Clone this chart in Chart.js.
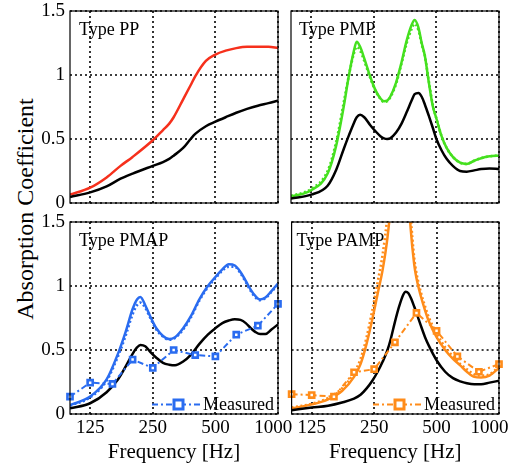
<!DOCTYPE html>
<html><head><meta charset="utf-8">
<script src="https://cdn.jsdelivr.net/npm/chart.js@4.4.1/dist/chart.umd.min.js"></script>
<style>
html,body{margin:0;padding:0;background:#fff;width:517px;height:463px;overflow:hidden;position:relative;}
canvas{position:absolute;}
#ylab{position:absolute;left:25px;top:209px;transform:translate(-50%,-50%) rotate(-90deg);font:24px "Liberation Serif";white-space:nowrap;color:#000;}
</style></head><body>
<div id="ylab">Absorption Coefficient</div>
<canvas id="c1"></canvas><canvas id="c2"></canvas><canvas id="c3"></canvas><canvas id="c4"></canvas>
<script>
// ---- tick values ----
const xTicks = [125, 250, 500, 1000];
const xTickLabels = ['125', '250', '500', '1000'];
const yTicks = [0, 0.5, 1, 1.5];
const yTickLabels = ['0', '0.5', '1', '1.5'];
const panelNames = ['Type PP', 'Type PMP', 'Type PMAP', 'Type PAMP'];
const xTitle = 'Frequency [Hz]';
const legendLabel = 'Measured';

// ---- Type PP ----
const ppFreq  = [100,125,150,175,200,250,280,300,315,350,380,400,450,500,560,630,710,800,900,1000];
const ppRed   = [0.065,0.12,0.2,0.29,0.36,0.49,0.57,0.62,0.67,0.81,0.92,0.99,1.11,1.16,1.19,1.21,1.22,1.22,1.22,1.21];
const ppBlack = [0.047,0.083,0.13,0.19,0.23,0.29,0.32,0.345,0.37,0.43,0.5,0.54,0.6,0.635,0.67,0.705,0.735,0.76,0.78,0.8];

// ---- Type PMP ----
const pmpFreq  = [100,125,150,165,180,190,200,207,215,225,240,255,270,280,290,300,320,340,360,380,393,410,425,440,460,480,500,530,560,600,650,700,760,820,900,1000];
const pmpGreen = [0.05,0.10,0.23,0.45,0.77,1.0,1.18,1.26,1.22,1.13,0.99,0.88,0.815,0.795,0.8,0.83,0.94,1.1,1.27,1.39,1.43,1.37,1.25,1.15,0.94,0.76,0.66,0.52,0.43,0.36,0.315,0.305,0.33,0.35,0.365,0.37];
const pmpGreenDot = [0.055,0.11,0.25,0.48,0.8,1.0,1.16,1.22,1.19,1.11,0.98,0.875,0.81,0.79,0.795,0.825,0.93,1.09,1.25,1.36,1.40,1.35,1.24,1.15,0.95,0.77,0.66,0.52,0.43,0.36,0.315,0.305,0.33,0.35,0.365,0.37];
const pmpBlack = [0.034,0.065,0.135,0.26,0.43,0.53,0.62,0.67,0.69,0.67,0.61,0.56,0.52,0.505,0.5,0.505,0.55,0.62,0.71,0.8,0.85,0.86,0.83,0.77,0.68,0.59,0.5,0.41,0.345,0.29,0.25,0.245,0.255,0.265,0.27,0.266];

// ---- Type PMAP ----
const pmapFreq  = [100,125,150,170,185,200,210,218,230,245,260,280,300,320,350,380,420,460,500,540,580,620,660,700,740,780,820,870,930,1000];
const pmapBlue  = [0.07,0.136,0.27,0.47,0.64,0.82,0.895,0.915,0.85,0.75,0.67,0.61,0.585,0.6,0.67,0.76,0.9,1.0,1.07,1.13,1.17,1.16,1.11,1.04,0.97,0.92,0.895,0.91,0.96,1.02];
const pmapBlueDot = [0.065,0.13,0.26,0.45,0.61,0.78,0.85,0.87,0.83,0.74,0.66,0.605,0.58,0.595,0.66,0.75,0.89,0.99,1.06,1.12,1.15,1.15,1.1,1.03,0.96,0.91,0.89,0.905,0.955,1.01];
const pmapBlack = [0.044,0.084,0.17,0.27,0.37,0.47,0.52,0.54,0.53,0.48,0.44,0.4,0.385,0.38,0.41,0.46,0.55,0.62,0.67,0.71,0.73,0.74,0.735,0.71,0.67,0.64,0.625,0.625,0.66,0.7];
const bandFreq = [100,125,160,200,250,315,400,500,630,800,1000];
const pmapMeasured = [0.135,0.245,0.235,0.425,0.36,0.5,0.46,0.45,0.62,0.69,0.86];

// ---- Type PAMP ----
const pampFreq   = [100,125,150,175,200,215,230,245,260,275,290,300,315,330,345,355,365,375,390,400,420,440,460,500,550,600,650,700,760,820,900,1000];
const pampOrange = [0.044,0.075,0.115,0.18,0.29,0.39,0.55,0.74,0.94,1.13,1.38,1.62,2.1,2.5,2.4,2.1,1.75,1.45,1.17,1.06,0.92,0.81,0.72,0.6,0.5,0.43,0.38,0.33,0.29,0.285,0.3,0.36];
const pampOrangeDot = [0.05,0.08,0.125,0.2,0.32,0.43,0.6,0.81,1.03,1.25,1.55,1.8,2.3,2.6,2.5,2.2,1.85,1.55,1.22,1.1,0.95,0.84,0.75,0.63,0.52,0.45,0.39,0.35,0.31,0.3,0.31,0.37];
const pampBlack  = [0.03,0.05,0.065,0.09,0.12,0.15,0.2,0.26,0.33,0.41,0.5,0.58,0.72,0.84,0.93,0.955,0.945,0.91,0.84,0.79,0.69,0.6,0.53,0.42,0.33,0.28,0.255,0.24,0.232,0.233,0.245,0.26];
const pampMeasured = [0.155,0.148,0.135,0.326,0.35,0.56,0.79,0.65,0.45,0.33,0.39];

const RED = '#f6301c', GREEN = '#45e01f', BLUE = '#2a6cf0', ORANGE = '#ff8c1a', BLACK = '#000';
const FONT = '"Liberation Serif", "Times New Roman", serif';

function pts(xs, ys) { return xs.map((x, i) => ({x: x, y: ys[i]})); }
function solid(xs, ys, color, order) {
  return {data: pts(xs, ys), borderColor: color, borderWidth: 2.5, pointRadius: 0, fill: false,
          cubicInterpolationMode: 'monotone', order: order};
}
function dotted(xs, ys, color, order) {
  return {data: pts(xs, ys), borderColor: color, borderWidth: 2.6, borderDash: [2, 2.5], pointRadius: 0,
          fill: false, cubicInterpolationMode: 'monotone', order: order};
}
function measured(xs, ys, color, order) {
  return {data: pts(xs, ys), borderColor: color, borderWidth: 2, borderDash: [6, 3, 2, 3], pointStyle: 'rect',
          pointRadius: 3.6, pointBorderWidth: 2.6, pointBackgroundColor: '#fff', pointBorderColor: color,
          fill: false, tension: 0, order: order, clip: false};
}

const framePlugin = {
  id: 'frame',
  beforeDatasetsDraw(chart) {
    // dotted grid at the tick positions of the chart's own scales
    const ctx = chart.ctx, a = chart.chartArea, sx = chart.scales.x, sy = chart.scales.y;
    ctx.save();
    ctx.strokeStyle = '#000'; ctx.lineWidth = 1.6; ctx.setLineDash([2, 3]);
    xTicks.forEach(v => {
      const px = Math.round(sx.getPixelForValue(v));
      ctx.beginPath(); ctx.moveTo(px, a.top); ctx.lineTo(px, a.bottom); ctx.stroke();
    });
    yTicks.forEach(v => {
      const py = Math.round(sy.getPixelForValue(v));
      ctx.beginPath(); ctx.moveTo(a.left, py); ctx.lineTo(a.right, py); ctx.stroke();
    });
    ctx.restore();
  },
  afterDraw(chart, args, o) {
    const ctx = chart.ctx, a = chart.chartArea;
    ctx.save();
    ctx.strokeStyle = '#000'; ctx.lineWidth = 1.2; ctx.setLineDash([]);
    ctx.strokeRect(a.left, a.top, a.right - a.left, a.bottom - a.top);
    ctx.fillStyle = '#000';
    ctx.font = '18px ' + FONT;
    ctx.textBaseline = 'alphabetic'; ctx.textAlign = 'left';
    ctx.fillText(o.label, a.left + o.dx, a.top + 24);
    if (o.legendColor) {
      const y = a.bottom - 9.5;
      ctx.strokeStyle = o.legendColor; ctx.lineWidth = 2; ctx.setLineDash([6, 3, 2, 3]);
      ctx.beginPath(); ctx.moveTo(a.right - 126, y); ctx.lineTo(a.right - 77, y); ctx.stroke();
      ctx.setLineDash([]); ctx.lineWidth = 3; ctx.fillStyle = '#fff';
      ctx.fillRect(a.right - 104, y - 4.5, 9, 9);
      ctx.strokeRect(a.right - 104, y - 4.5, 9, 9);
      ctx.fillStyle = '#000'; ctx.font = '18px ' + FONT;
      ctx.fillText(legendLabel, a.right - 75, a.bottom - 4);
    }
    ctx.restore();
  }
};

function makeChart(id, box, area, showXLabels, showYLabels, datasets, label, dx, legendColor, lastPad) {
  const cv = document.getElementById(id);
  cv.width = box.w; cv.height = box.h;
  cv.style.left = box.l + 'px'; cv.style.top = box.t + 'px';
  cv.style.width = box.w + 'px'; cv.style.height = box.h + 'px';
  const xAxisH = box.t + box.h - area.b;
  const yAxisW = area.l - box.l;
  return new Chart(cv, {
    type: 'line',
    data: {datasets: datasets},
    plugins: [framePlugin],
    options: {
      responsive: false, animation: false, devicePixelRatio: 1,
      layout: {padding: {left: 0, top: area.t - box.t, right: box.l + box.w - area.r, bottom: 0}},
      plugins: {legend: {display: false}, tooltip: {enabled: false},
                frame: {label: label, dx: dx, legendColor: legendColor}},
      scales: {
        x: {
          type: 'logarithmic', min: 100, max: 1000,
          afterBuildTicks: s => { s.ticks = xTicks.map(v => ({value: v})); },
          afterFit: s => { s.height = xAxisH; s.paddingLeft = 0; s.paddingRight = 0; },
          ticks: {display: showXLabels, color: '#000', font: {family: FONT, size: 19}, padding: 3,
                  maxRotation: 0, autoSkip: false,
                  callback: (v, i) => xTickLabels[i] + (i === xTicks.length - 1 ? lastPad : '')},
          grid: {display: false, drawTicks: false},
          border: {display: false},
          title: {display: showXLabels, text: xTitle, color: '#000', font: {family: FONT, size: 21},
                  padding: {top: 0, bottom: 0}}
        },
        y: {
          type: 'linear', min: 0, max: 1.5,
          afterBuildTicks: s => { s.ticks = yTicks.map(v => ({value: v})); },
          afterFit: s => { s.width = yAxisW; s.paddingTop = 0; s.paddingBottom = 0; },
          ticks: {display: showYLabels, color: '#000', font: {family: FONT, size: 19}, padding: 5,
                  callback: (v, i) => yTickLabels[i]},
          grid: {display: false, drawTicks: false},
          border: {display: false}
        }
      }
    }
  });
}

makeChart('c1', {l: 0, t: 0, w: 290, h: 215}, {l: 70, t: 11, r: 278, b: 203}, false, true,
  [solid(ppFreq, ppRed, RED, 2), solid(ppFreq, ppBlack, BLACK, 1)], panelNames[0], 9, null, '');
makeChart('c2', {l: 285, t: 0, w: 232, h: 215}, {l: 291, t: 11, r: 499, b: 203}, false, false,
  [solid(pmpFreq, pmpGreen, GREEN, 3), dotted(pmpFreq, pmpGreenDot, GREEN, 2), solid(pmpFreq, pmpBlack, BLACK, 1)],
  panelNames[1], 8, null, '');
makeChart('c3', {l: 0, t: 205, w: 300, h: 260}, {l: 70, t: 222, r: 278, b: 414}, true, true,
  [solid(pmapFreq, pmapBlue, BLUE, 4), dotted(pmapFreq, pmapBlueDot, BLUE, 3), solid(pmapFreq, pmapBlack, BLACK, 2),
   measured(bandFreq, pmapMeasured, BLUE, 1)], panelNames[2], 9, BLUE, '  ');
makeChart('c4', {l: 285, t: 205, w: 232, h: 260}, {l: 291, t: 222, r: 499, b: 414}, true, false,
  [solid(pampFreq, pampOrange, ORANGE, 4), dotted(pampFreq, pampOrangeDot, ORANGE, 3), solid(pampFreq, pampBlack, BLACK, 2),
   measured(bandFreq, pampMeasured, ORANGE, 1)], panelNames[3], 5, ORANGE, '    ');
</script>
</body></html>
